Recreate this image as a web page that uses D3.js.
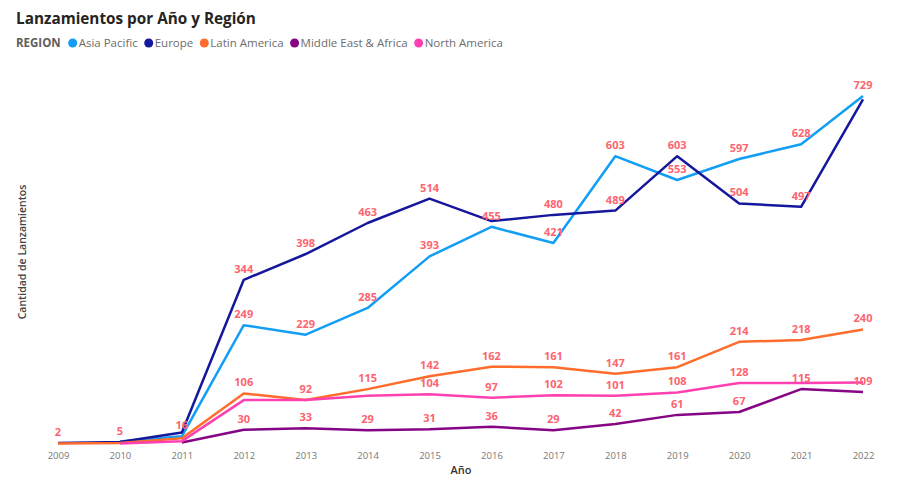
<!DOCTYPE html>
<html>
<head>
<meta charset="utf-8">
<script src="https://cdn.jsdelivr.net/npm/d3@7"></script>
<style>
body{margin:0;background:#fff;font-family:'Open Sans',sans-serif;}
</style>
</head>
<body>
<svg id="chart" width="902" height="486"></svg>
<script>
// years on the x axis
var years=[2009,2010,2011,2012,2013,2014,2015,2016,2017,2018,2019,2020,2021,2022];
var regions=['Asia Pacific','Europe','Latin America','Middle East & Africa','North America'];
var colors=['#129ef5','#15179c','#ff6c2c','#850585','#ff40b0'];

// launches per year (null = no value)
var asiaPacific=[null,5,16,249,229,285,393,455,421,603,553,597,628,729];
var europe=[2,4,24,344,398,463,514,467,480,489,603,504,497,722];
var latinAmerica=[1,2,12,106,92,115,142,162,161,147,161,214,218,240];
var middleEast=[null,null,3,30,33,29,31,36,29,42,61,67,115,109];
var northAmerica=[null,1,6,92,92,101,104,97,102,101,108,128,128,129];

// years whose data label is visible for each series
var apLabels=[2010,2011,2012,2013,2014,2015,2016,2017,2018,2019,2020,2021,2022];
var euLabels=[2009,2012,2013,2014,2015,2017,2018,2019,2020,2021];
var laLabels=[2012,2013,2014,2015,2016,2017,2018,2019,2020,2021,2022];
var meLabels=[2012,2013,2014,2015,2016,2017,2018,2019,2020,2021,2022];
var naLabels=[2015,2016,2017,2018,2019,2020];

var series=[
    {name:regions[0],values:asiaPacific,labels:apLabels,color:colors[0]},
    {name:regions[1],values:europe,labels:euLabels,color:colors[1]},
    {name:regions[2],values:latinAmerica,labels:laLabels,color:colors[2]},
    {name:regions[3],values:middleEast,labels:meLabels,color:colors[3]},
    {name:regions[4],values:northAmerica,labels:naLabels,color:colors[4]}
];

var svg=d3.select('#chart');

var xScale=d3.scalePoint()
    .domain(years)
    .range([58,863]);

var yScale=d3.scaleLinear()
    .domain([0,750])
    .range([444,86]);

// title
svg.append('text')
    .attr('x',16)
    .attr('y',24)
    .style('font-size','15.3px')
    .style('font-weight',700)
    .style('fill','#252423')
    .text('Lanzamientos por Año y Región');

// legend
var legend=svg.append('g').attr('transform','translate(16,47)');
var legendTitle=legend.append('text')
    .attr('x',0)
    .attr('y',0)
    .style('font-size','11.5px')
    .style('font-weight',700)
    .style('fill','#605e5c')
    .text('REGION');
var lx=legendTitle.node().getComputedTextLength()+12;
series.forEach(function(s){
    legend.append('circle')
        .attr('cx',lx)
        .attr('cy',-4)
        .attr('r',4.5)
        .style('fill',s.color);
    var t=legend.append('text')
        .attr('x',lx+6)
        .attr('y',0)
        .style('font-size','11.5px')
        .style('fill','#6f6d6b')
        .text(s.name);
    lx+=6+t.node().getComputedTextLength()+11;
});

// x axis
var xAxis=d3.axisBottom(xScale)
    .tickSize(0)
    .tickPadding(5);
var gx=svg.append('g')
    .attr('transform','translate(0,447)')
    .call(xAxis);
gx.select('.domain').remove();
gx.selectAll('text')
    .style('font-family',"'Open Sans',sans-serif")
    .style('font-size','9.5px')
    .style('fill','#777');

svg.append('text')
    .attr('x',461)
    .attr('y',474)
    .attr('text-anchor','middle')
    .style('font-size','11px')
    .style('font-weight',600)
    .style('fill','#333')
    .text('Año');

svg.append('text')
    .attr('transform','translate(26,252) rotate(-90)')
    .attr('text-anchor','middle')
    .style('font-size','10.5px')
    .style('font-weight',600)
    .style('fill','#444')
    .text('Cantidad de Lanzamientos');

// lines
var line=d3.line()
    .defined(function(d){return d!==null;})
    .x(function(d,i){return xScale(years[i]);})
    .y(function(d){return yScale(d);});

svg.selectAll('.series')
    .data(series)
    .enter()
    .append('path')
    .attr('class','series')
    .attr('d',function(s){return line(s.values);})
    .style('fill','none')
    .style('stroke',function(s){return s.color;})
    .style('stroke-width',2.5)
    .style('stroke-linejoin','round');

// data labels
series.forEach(function(s){
    svg.append('g')
        .selectAll('text')
        .data(s.labels)
        .enter()
        .append('text')
        .attr('x',function(yr){return xScale(yr);})
        .attr('y',function(yr){return yScale(s.values[years.indexOf(yr)])-7;})
        .attr('text-anchor','middle')
        .style('font-size','11px')
        .style('font-weight',700)
        .style('fill','#fd6470')
        .text(function(yr){return s.values[years.indexOf(yr)];});
});
</script>
</body>
</html>
